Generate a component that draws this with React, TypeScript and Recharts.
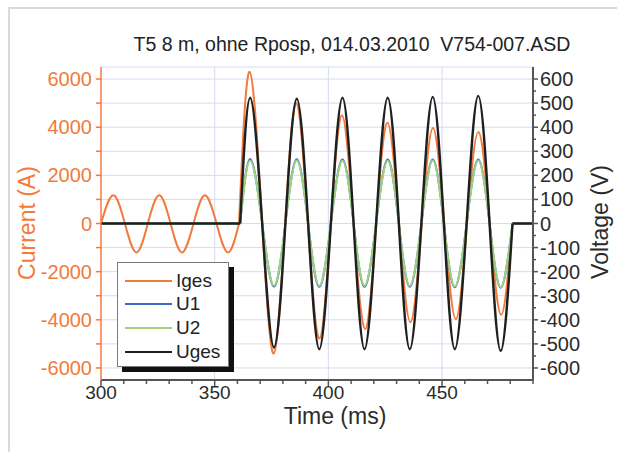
import React from 'react';
import { LineChart, Line, XAxis, YAxis, CartesianGrid, Legend, ReferenceLine } from 'recharts';

const FONT = '"Liberation Sans", Arial, Helvetica, sans-serif';
const ORANGE = '#f27a3c';
const BLUE = '#3d68c6';
const GREEN = '#9fd27e';
const BLACK = '#1f1f1f';
const FRAME = '#555555';
const TEXT = '#2b2b2b';
const GRID = '#d6dbf0';

const TITLE = 'T5 8 m, ohne Rposp, 014.03.2010  V754-007.ASD';

// Axis ticks (ms, A, V)
const timeTicks = [300, 310, 320, 330, 340, 350, 360, 370, 380, 390, 400, 410, 420, 430, 440, 450, 460, 470, 480, 490];
const timeLabelTicks = [300, 350, 400, 450];
const timeGridLines = [350, 400, 450];
const currentTicks = [-6000, -5000, -4000, -3000, -2000, -1000, 0, 1000, 2000, 3000, 4000, 5000, 6000];
const currentLabelTicks = [-6000, -4000, -2000, 0, 2000, 4000, 6000];
const voltageTicks = [-600, -550, -500, -450, -400, -350, -300, -250, -200, -150, -100, -50, 0, 50, 100, 150, 200, 250, 300, 350, 400, 450, 500, 550, 600];
const voltageLabelTicks = [-600, -500, -400, -300, -200, -100, 0, 100, 200, 300, 400, 500, 600];

// Iges before switching: zero crossings, crests and troughs (ms, A)
const igesPreTime = [300, 305.4, 310.5, 315.6, 320.6, 325.6, 330.6, 335.6, 340.7, 345.7, 350.8, 355.9, 360.7];
const igesPreValue = [0, 1170, 0, -1200, 0, 1170, 0, -1200, 0, 1170, 0, -1200, 0];

// Iges while switched on (ms, A)
const igesOnTime = [360.7, 365.4, 370.9, 376.0, 381.0, 385.9, 391.0, 396.1, 401.1, 406.0, 411.1, 416.2, 421.1, 426.0, 431.1, 436.1, 441.1, 446.0, 451.0, 456.1, 461.0, 466.0, 471.0, 476.0, 481.0];
const igesOnValue = [0, 6300, 0, -5400, 0, 5000, 0, -4780, 0, 4500, 0, -4380, 0, 4180, 0, -4100, 0, 3970, 0, -3970, 0, 3800, 0, -3790, 0];

// Voltages while switched on (ms, V)
const voltageTime = [361.2, 365.6, 370.9, 376.1, 381.1, 386.1, 391.1, 396.0, 401.1, 406.2, 411.1, 415.9, 421.0, 426.1, 431.0, 435.8, 440.9, 445.9, 450.8, 455.6, 460.8, 465.9, 470.9, 475.8, 481.0];
const u1Value = [0, 268, 0, -262, 0, 267, 0, -263, 0, 266, 0, -263, 0, 266, 0, -263, 0, 266, 0, -265, 0, 266, 0, -267, 0];
const u2Value = [0, 262, 0, -258, 0, 262, 0, -259, 0, 261, 0, -259, 0, 261, 0, -259, 0, 262, 0, -261, 0, 262, 0, -264, 0];
const ugesValue = [0, 522, 0, -515, 0, 518, 0, -522, 0, 522, 0, -522, 0, 522, 0, -522, 0, 526, 0, -522, 0, 530, 0, -529, 0];

// Switched-off stretches before and after
const offBeforeTime = [300, 361.2];
const offAfterTime = [481.0, 490];
const offValue = [0, 0];

const seriesNames = ['Iges', 'U1', 'U2', 'Uges'];
const seriesColors = [ORANGE, BLUE, GREEN, BLACK];

const toPoints = (ts: number[], vs: number[]) => ts.map((t, i) => ({ t, v: vs[i] }));

const igesPre = toPoints(igesPreTime, igesPreValue);
const igesOn = toPoints(igesOnTime, igesOnValue);
const igesAfter = toPoints(offAfterTime, offValue);
const voltBefore = toPoints(offBeforeTime, offValue);
const voltAfter = toPoints(offAfterTime, offValue);
const u1Wave = toPoints(voltageTime, u1Value);
const u2Wave = toPoints(voltageTime, u2Value);
const ugesWave = toPoints(voltageTime, ugesValue);

const BottomTick = (props: any) => {
  const { x, y, payload } = props;
  const major = timeLabelTicks.includes(payload.value);
  return (
    <g>
      <line x1={x} x2={x} y1={y} y2={y + (major ? 6 : 4)} stroke={FRAME} strokeWidth={1.5} />
      {major && (
        <text x={x} y={y + 19} textAnchor="middle" fontSize={19} fontFamily={FONT} fill={TEXT}>
          {payload.value}
        </text>
      )}
    </g>
  );
};

const TopTick = (props: any) => {
  const { x, y, payload } = props;
  const major = timeLabelTicks.includes(payload.value);
  return <line x1={x} x2={x} y1={y} y2={y + (major ? 5 : 3)} stroke={FRAME} strokeWidth={1.5} />;
};

const CurrentTick = (props: any) => {
  const { x, y, payload } = props;
  const major = currentLabelTicks.includes(payload.value);
  return (
    <g>
      <line x1={x - 5} x2={x} y1={y} y2={y} stroke={ORANGE} strokeWidth={1.5} />
      {major && (
        <text x={x - 9} y={y + 7} textAnchor="end" fontSize={20} fontFamily={FONT} fill={ORANGE}>
          {payload.value}
        </text>
      )}
    </g>
  );
};

const VoltageTick = (props: any) => {
  const { x, y, payload } = props;
  const major = voltageLabelTicks.includes(payload.value);
  return (
    <g>
      <line x1={x} x2={x + (major ? 5 : 3)} y1={y} y2={y} stroke={FRAME} strokeWidth={1.5} />
      {major && (
        <text x={x + 7} y={y + 7} textAnchor="start" fontSize={20} fontFamily={FONT} fill={TEXT}>
          {payload.value}
        </text>
      )}
    </g>
  );
};

const AxisCaption = (props: any) => {
  const { cx, cy, rotate, color, size, text } = props;
  return (
    <text
      x={cx}
      y={cy}
      transform={rotate ? `rotate(${rotate} ${cx} ${cy})` : undefined}
      textAnchor="middle"
      dominantBaseline={rotate ? 'central' : 'auto'}
      fontSize={size}
      fontFamily={FONT}
      fill={color}
    >
      {text}
    </text>
  );
};

const LegendBox = () => (
  <div
    style={{
      position: 'relative',
      width: 112,
      height: 105,
      boxSizing: 'border-box',
      border: '1.5px solid #7a7a7a',
      background: '#fff',
      boxShadow: '5px 5px 0 #111',
      fontFamily: FONT,
      fontSize: 19,
      color: '#222',
    }}
  >
    {seriesNames.map((name, i) => (
      <div
        key={name}
        style={{ position: 'absolute', left: 0, top: 6 + i * 23.6, height: 23.6, display: 'flex', alignItems: 'center' }}
      >
        <svg width={56} height={20} style={{ display: 'block' }}>
          <line x1={7} x2={54} y1={10} y2={10} stroke={seriesColors[i]} strokeWidth={2} />
        </svg>
        <span style={{ marginLeft: 2, lineHeight: '20px' }}>{name}</span>
      </div>
    ))}
  </div>
);

const common = { dot: false, activeDot: false, isAnimationActive: false, dataKey: 'v', xAxisId: 'bottom' } as const;

export default function App() {
  return (
    <div style={{ position: 'absolute', left: 0, top: 0, width: 617, height: 452, background: '#fff', overflow: 'hidden' }}>
      <style>{'body{overflow:hidden}'}</style>
      <div
        style={{
          position: 'absolute',
          left: 8,
          top: 7,
          width: 620,
          height: 460,
          borderLeft: '2.5px solid #d6dcda',
          borderTop: '2.5px solid #d6dcda',
        }}
      />
      <div
        style={{
          position: 'absolute',
          left: 110,
          top: 33,
          width: 484,
          textAlign: 'center',
          whiteSpace: 'pre',
          fontFamily: FONT,
          fontSize: 19.5,
          lineHeight: '22px',
          color: '#222',
        }}
      >
        {TITLE}
      </div>
      <div style={{ position: 'absolute', left: 0, top: 0 }}>
        <LineChart width={617} height={452} margin={{ top: 67, right: 0, bottom: 0, left: 0 }}>
          <CartesianGrid xAxisId="bottom" yAxisId="left" stroke={GRID} strokeWidth={1} vertical={false} />
          {timeGridLines.map((t) => (
            <ReferenceLine key={t} x={t} xAxisId="bottom" yAxisId="left" stroke={GRID} strokeWidth={1} />
          ))}
          <XAxis
            xAxisId="bottom"
            dataKey="t"
            type="number"
            domain={[300, 490]}
            allowDataOverflow
            ticks={timeTicks}
            interval={0}
            tickSize={0}
            tickMargin={0}
            tickLine={false}
            tick={<BottomTick />}
            height={72}
            axisLine={{ stroke: FRAME, strokeWidth: 2 }}
            label={<AxisCaption cx={335} cy={424} size={23} color={TEXT} text="Time (ms)" />}
          />
          <XAxis
            xAxisId="top"
            orientation="top"
            dataKey="t"
            type="number"
            domain={[300, 490]}
            allowDataOverflow
            ticks={timeTicks}
            interval={0}
            tickSize={0}
            tickMargin={0}
            tickLine={false}
            tick={<TopTick />}
            height={0}
            axisLine={{ stroke: FRAME, strokeWidth: 2 }}
          />
          <YAxis
            yAxisId="left"
            type="number"
            domain={[-6500, 6500]}
            allowDataOverflow
            ticks={currentTicks}
            interval={0}
            tickSize={0}
            tickMargin={0}
            tickLine={false}
            tick={<CurrentTick />}
            width={101}
            axisLine={{ stroke: ORANGE, strokeWidth: 1.5 }}
            label={<AxisCaption cx={27} cy={223} rotate={-90} size={23} color={ORANGE} text="Current (A)" />}
          />
          <YAxis
            yAxisId="right"
            orientation="right"
            type="number"
            domain={[-650, 650]}
            allowDataOverflow
            ticks={voltageTicks}
            interval={0}
            tickSize={0}
            tickMargin={0}
            tickLine={false}
            tick={<VoltageTick />}
            width={84}
            axisLine={{ stroke: FRAME, strokeWidth: 2 }}
            label={<AxisCaption cx={600} cy={222} rotate={-90} size={23} color={TEXT} text="Voltage (V)" />}
          />
          <Legend
            layout="vertical"
            align="center"
            verticalAlign="middle"
            content={<LegendBox />}
            wrapperStyle={{ left: 117, top: 262, width: 112, height: 105 }}
          />

          <Line {...common} yAxisId="left" name="Iges" data={igesPre} type="natural" stroke={ORANGE} strokeWidth={2} />
          <Line {...common} yAxisId="left" legendType="none" data={igesOn} type="natural" stroke={ORANGE} strokeWidth={2} />
          <Line {...common} yAxisId="left" legendType="none" data={igesAfter} type="linear" stroke={ORANGE} strokeWidth={2} />

          <Line {...common} yAxisId="right" legendType="none" data={voltBefore} type="linear" stroke={BLUE} strokeWidth={2} />
          <Line {...common} yAxisId="right" name="U1" data={u1Wave} type="natural" stroke={BLUE} strokeWidth={2} />
          <Line {...common} yAxisId="right" legendType="none" data={voltAfter} type="linear" stroke={BLUE} strokeWidth={2} />

          <Line {...common} yAxisId="right" legendType="none" data={voltBefore} type="linear" stroke={GREEN} strokeWidth={2} />
          <Line {...common} yAxisId="right" name="U2" data={u2Wave} type="natural" stroke={GREEN} strokeWidth={2} />
          <Line {...common} yAxisId="right" legendType="none" data={voltAfter} type="linear" stroke={GREEN} strokeWidth={2} />

          <Line {...common} yAxisId="right" legendType="none" data={voltBefore} type="linear" stroke={BLACK} strokeWidth={2.4} />
          <Line {...common} yAxisId="right" name="Uges" data={ugesWave} type="natural" stroke={BLACK} strokeWidth={2.4} />
          <Line {...common} yAxisId="right" legendType="none" data={voltAfter} type="linear" stroke={BLACK} strokeWidth={2.4} />
        </LineChart>
      </div>
    </div>
  );
}
